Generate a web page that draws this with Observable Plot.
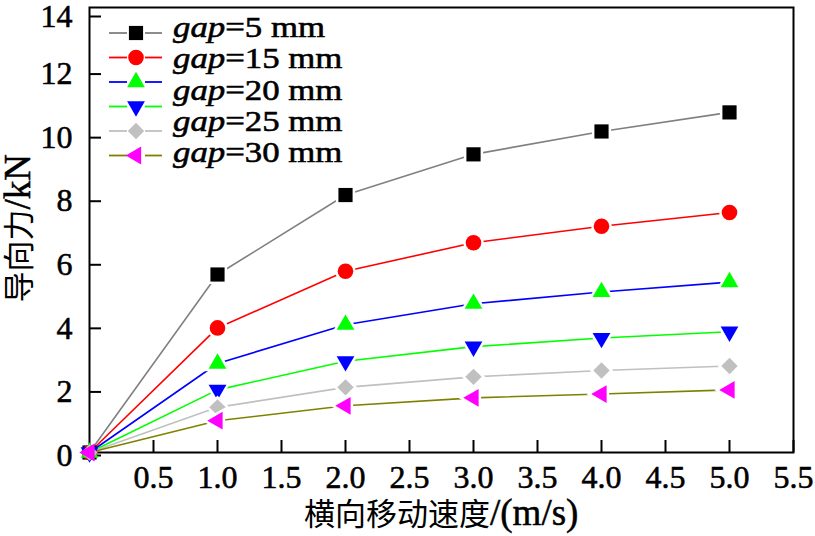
<!DOCTYPE html>
<html><head><meta charset="utf-8">
<script src="https://cdn.jsdelivr.net/npm/d3@7"></script>
<script src="https://cdn.jsdelivr.net/npm/@observablehq/plot@0.6"></script>
<style>
body{margin:0;background:#fff;}
#wrap{position:relative;width:815px;height:536px;overflow:hidden;}
#wrap text{stroke:#000;stroke-width:0.55px;}
.ttl{position:absolute;white-space:nowrap;color:#000;line-height:1.1;}
.cjk{font-family:"Noto Sans CJK SC";font-size:31px;}
.lat{font-family:"Liberation Serif";font-size:37px;-webkit-text-stroke:0.5px #000;}
</style></head><body><div id="wrap"></div>
<script>
// ---- data ----
const speeds = [0, 1, 2, 3, 4, 5];
const gap5   = [0, 5.6, 8.1, 9.38, 10.1, 10.7];
const gap15  = [0, 3.92, 5.7, 6.6, 7.12, 7.55];
const gap20  = [0, 2.8, 4.02, 4.68, 5.05, 5.36];
const gap20b = [0, 1.97, 2.87, 3.33, 3.6, 3.8];
const gap25  = [0, 1.42, 2.05, 2.38, 2.58, 2.72];
const gap30  = [0, 1.0, 1.47, 1.72, 1.84, 1.97];
const legendLabels = ["5", "15", "20", "25", "30"];
const xTicks = [0.5, 1.0, 1.5, 2.0, 2.5, 3.0, 3.5, 4.0, 4.5, 5.0, 5.5];
const yTicks = [0, 2, 4, 6, 8, 10, 12];
const yTopTick = [14];
const xTitleCJK = "横向移动速度", xTitleLat = "/(m/s)";
const yTitleCJK = "导向力", yTitleLat = "/kN";

// ---- styles ----
const series = [
  {vals: gap5,   line: "#808080", fill: "#000000", symbol: "square",   rotate: 0,   r: 8},
  {vals: gap15,  line: "#ff0000", fill: "#ff0000", symbol: "circle",   rotate: 0,   r: 7.8},
  {vals: gap20,  line: "#0000ff", fill: "#00ff00", symbol: "triangle", rotate: 0,   r: 6.6},
  {vals: gap20b, line: "#00ff00", fill: "#0000ff", symbol: "triangle", rotate: 180, r: 6.6},
  {vals: gap25,  line: "#c0c0c0", fill: "#c0c0c0", symbol: "diamond2", rotate: 0,   r: 7.4},
  {vals: gap30,  line: "#808000", fill: "#ff00ff", symbol: "triangle", rotate: -90, r: 6.6}
];
series.forEach((s, i) => s.data = speeds.map((x, j) => ({x, y: s.vals[j], k: i})));

const marks = [Plot.frame({stroke: "#000", strokeWidth: 2})];
for (const s of series) {
  marks.push(Plot.line(s.data, {x: "x", y: "y", stroke: s.line, strokeWidth: 1.6}));
}
for (const s of series) {
  marks.push(Plot.dot(s.data.slice(1), {x: "x", y: "y", symbol: s.symbol, r: s.r, rotate: s.rotate,
    fill: s.fill, stroke: "#fff", strokeWidth: 5, paintOrder: "stroke"}));
}
for (const s of series) {
  marks.push(Plot.dot(s.data.slice(0, 1), {x: "x", y: "y", symbol: s.symbol, r: s.r, rotate: s.rotate,
    fill: s.fill, stroke: "none"}));
}

const plot = Plot.plot({
  width: 815, height: 536,
  marginLeft: 89, marginTop: 7, marginRight: 22, marginBottom: 84,
  x: {domain: [0, 5.5]},
  y: {domain: [0, 14]},
  style: {fontFamily: "Liberation Serif", fontSize: "32px", color: "#000", background: "#fff", overflow: "visible"},
  marks: [
    Plot.axisX({ticks: xTicks, tickSize: -12, tickPadding: 25, tickFormat: d => d.toFixed(1), label: null, strokeWidth: 2, fontSize: 32}),
    Plot.axisY({ticks: yTicks, tickSize: -12, tickPadding: 29, label: null, strokeWidth: 2, fontSize: 32, dy: 3}),
    Plot.axisY({ticks: yTopTick, tickSize: -12, tickPadding: 29, label: null, strokeWidth: 2, fontSize: 32, dy: 9}),
    ...marks
  ]
});
const wrap = document.getElementById("wrap");
wrap.appendChild(plot);

// ---- legend overlay ----
const lg = d3.select(wrap).append("svg")
  .attr("width", 815).attr("height", 536)
  .style("position", "absolute").style("left", "0px").style("top", "0px");
series.forEach((s, i) => {
  const cy = 33 + i * 24.5;
  lg.append("line").attr("x1", 109).attr("x2", 127).attr("y1", cy).attr("y2", cy).attr("stroke", s.line).attr("stroke-width", 1.8);
  lg.append("line").attr("x1", 145).attr("x2", 162).attr("y1", cy).attr("y2", cy).attr("stroke", s.line).attr("stroke-width", 1.8);
  const sym = {square: d3.symbolSquare, circle: d3.symbolCircle, triangle: d3.symbolTriangle, diamond2: d3.symbolDiamond2}[s.symbol];
  lg.append("path").attr("d", d3.symbol(sym, s.r * s.r * Math.PI)())
    .attr("transform", `translate(136,${cy}) rotate(${s.rotate})`).attr("fill", s.fill);
});
legendLabels.forEach((v, i) => {
  const t = lg.append("text").attr("x", 0).attr("y", 0)
    .attr("transform", `translate(173,${37 + i * 31.25}) scale(1.2,1)`)
    .attr("font-family", "Liberation Serif").attr("font-size", 29).attr("fill", "#000");
  t.append("tspan").attr("font-style", "italic").text("gap");
  t.append("tspan").text("=" + v + " mm");
});

// ---- axis titles ----
const xt = document.createElement("div");
xt.className = "ttl";
xt.innerHTML = `<span class="cjk">${xTitleCJK}</span><span class="lat">${xTitleLat}</span>`;
wrap.appendChild(xt);
xt.style.left = (441 - xt.offsetWidth / 2) + "px";
xt.style.top = (513 - xt.offsetHeight / 2) + "px";

const yt = document.createElement("div");
yt.className = "ttl";
yt.innerHTML = `<span class="cjk">${yTitleCJK}</span><span class="lat">${yTitleLat}</span>`;
wrap.appendChild(yt);
yt.style.left = (18 - yt.offsetWidth / 2) + "px";
yt.style.top = (228 - yt.offsetHeight / 2) + "px";
yt.style.transform = "rotate(-90deg)";
</script>
</body></html>
